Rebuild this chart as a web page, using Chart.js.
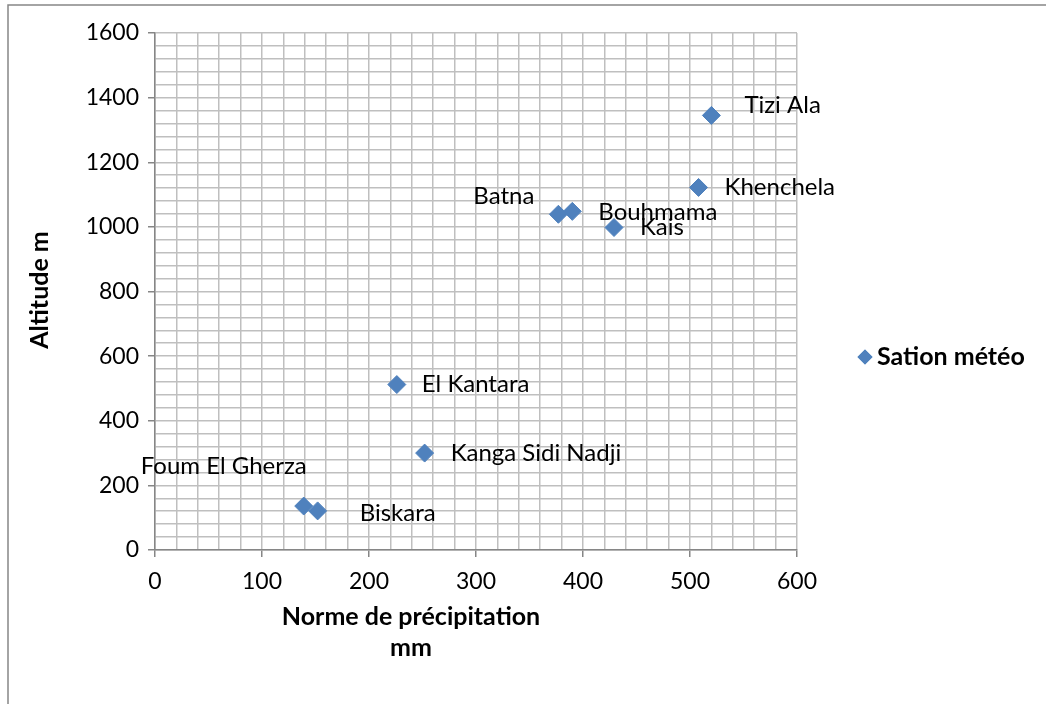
<!DOCTYPE html>
<html>
<head>
<meta charset="utf-8">
<script src="https://cdn.jsdelivr.net/npm/chart.js@4.4.1/dist/chart.umd.min.js"></script>
<style>
    body { margin: 0; background: #fff; }
</style>
</head>
<body>
<canvas id="stations" width="1046" height="704"></canvas>
<script>
// donnees
const stationNames = ["Tizi Ala", "Khenchela", "Batna", "Bouhmama", "Kais", "El Kantara", "Kanga Sidi Nadji", "Foum El Gherza", "Biskara"];
const precipitation = [520, 508, 377, 390, 429, 226, 252, 139, 152];
const altitude = [1345, 1122, 1039, 1048, 998, 512, 300, 136, 121];
const serieName = "Sation météo";
const xTitle = ["Norme de précipitation", "mm"];
const yTitle = "Altitude m";
const xMin = 0, xMax = 600, xMajor = 100, xMinor = 20;
const yMin = 0, yMax = 1600, yMajor = 200, yMinor = 40;

// decalage des etiquettes (dx, dy, alignement)
const labelOffsets = [
    [33, -10, "left"],
    [26, 0, "left"],
    [-24, -18, "right"],
    [26, 1, "left"],
    [26, 0, "left"],
    [25, 0, "left"],
    [26, 0, "left"],
    [3, -40, "right"],
    [42, 2, "left"],
];

const FONT = "Lato";
const blue = "#4F81BD";
const gridColor = "#BFBFBF";
const axisColor = "#868686";

const extras = {
    id: "extras",
    afterDatasetsDraw(chart) {
        const ctx = chart.ctx;
        const meta = chart.getDatasetMeta(0);
        ctx.save();
        ctx.fillStyle = "#000";
        ctx.font = "24px " + FONT;
        ctx.textBaseline = "middle";
        meta.data.forEach((pt, i) => {
            const off = labelOffsets[i];
            ctx.textAlign = off[2];
            ctx.fillText(stationNames[i], pt.x + off[0], pt.y + off[1]);
        });
        ctx.restore();
    },
    afterDraw(chart) {
        const ctx = chart.ctx;
        const area = chart.chartArea;
        ctx.save();
        // cadre
        ctx.strokeStyle = axisColor;
        ctx.lineWidth = 1.5;
        ctx.strokeRect(8, 5, 1100, 800);
        // titres des axes
        ctx.fillStyle = "#000";
        ctx.font = "bold 25px " + FONT;
        ctx.textAlign = "center";
        ctx.textBaseline = "middle";
        ctx.fillText(xTitle[0], area.left + 256, 617);
        ctx.fillText(xTitle[1], area.left + 256, 648);
        ctx.translate(40, 290);
        ctx.rotate(-Math.PI / 2);
        ctx.fillText(yTitle, 0, 0);
        ctx.restore();
        // legende
        ctx.save();
        ctx.fillStyle = blue;
        Chart.helpers.drawPoint(ctx, { pointStyle: "rectRot", radius: 7.5, borderWidth: 0 }, 865, 357);
        ctx.fill();
        ctx.fillStyle = "#000";
        ctx.font = "bold 25px " + FONT;
        ctx.textAlign = "left";
        ctx.textBaseline = "middle";
        ctx.fillText(serieName, 877, 357);
        ctx.restore();
    },
};

const ctxStations = document.getElementById("stations").getContext("2d");

const myChart = new Chart(ctxStations, {
    type: "scatter",
    data: {
        datasets: [
            {
                label: serieName,
                data: precipitation.map((p, i) => ({ x: p, y: altitude[i] })),
                pointStyle: "rectRot",
                pointRadius: 9,
                pointHoverRadius: 9,
                backgroundColor: blue,
                borderColor: blue,
                borderWidth: 1,
            },
        ],
    },
    options: {
        responsive: false,
        animation: false,
        events: [],
        layout: {
            padding: { left: 0, top: 33, right: 249, bottom: 0 },
        },
        plugins: {
            legend: { display: false },
            tooltip: { enabled: false },
        },
        scales: {
            x: {
                type: "linear",
                min: xMin,
                max: xMax,
                afterFit: (scale) => { scale.height = 154; },
                ticks: {
                    stepSize: xMinor,
                    autoSkip: false,
                    maxRotation: 0,
                    padding: 11,
                    color: "#000",
                    font: { family: FONT, size: 23 },
                    callback: (v) => (v % xMajor === 0 ? v : ""),
                },
                grid: {
                    color: gridColor,
                    lineWidth: 1.5,
                    tickLength: 7,
                    tickColor: (c) => (c.tick && c.tick.value % xMajor === 0 ? axisColor : "rgba(0,0,0,0)"),
                },
                border: { color: axisColor, width: 1.5 },
            },
            y: {
                type: "linear",
                min: yMin,
                max: yMax,
                afterFit: (scale) => { scale.width = 155; },
                ticks: {
                    stepSize: yMinor,
                    autoSkip: false,
                    padding: 9,
                    color: "#000",
                    font: { family: FONT, size: 23 },
                    callback: (v) => (v % yMajor === 0 ? v : ""),
                },
                grid: {
                    color: gridColor,
                    lineWidth: 1.5,
                    tickLength: 7,
                    tickColor: (c) => (c.tick && c.tick.value % yMajor === 0 ? axisColor : "rgba(0,0,0,0)"),
                },
                border: { color: axisColor, width: 1.5 },
            },
        },
    },
    plugins: [extras],
});
</script>
</body>
</html>
